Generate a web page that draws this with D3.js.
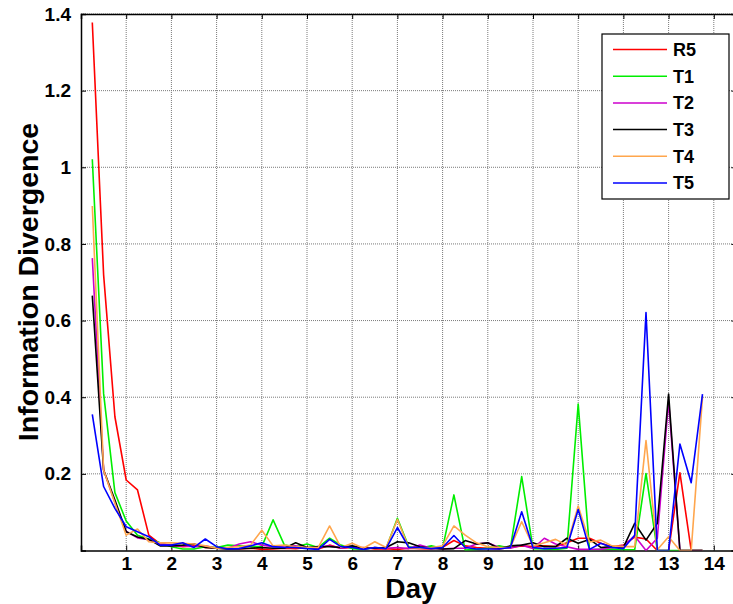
<!DOCTYPE html>
<html><head><meta charset="utf-8">
<script src="https://cdn.jsdelivr.net/npm/d3@7/dist/d3.min.js"></script>
<style>
body{margin:0;background:#fff;}
text{font-family:"Liberation Sans",Arial,Helvetica,sans-serif;font-weight:bold;}
</style></head>
<body><svg id="c" width="733" height="604"></svg>
<script>
const days = d3.range(1, 56).map(i => i * 0.25);
const xTicks = [1,2,3,4,5,6,7,8,9,10,11,12,13,14];
const yTicks = [0.2,0.4,0.6,0.8,1,1.2,1.4];
const seriesNames = ["R5","T1","T2","T3","T4","T5"];
const seriesColors = ["#ff0000","#00ee00","#cc00cc","#000000","#ffa64d","#0000ff"];

const R5 = [1.378,0.72,0.349,0.184,0.158,0.04,0.017,0.014,0.01,0.012,0.008,0.006,0.005,0.004,0.006,0.003,0.004,0.006,0.005,0.008,0.004,0.014,0.006,0.008,0.008,0.004,0.005,0.003,0.006,0.005,0.004,0.008,0.026,0.012,0.008,0.006,0.004,0.008,0.012,0.01,0.012,0.01,0.02,0.032,0.032,0.019,0.01,0.014,0.035,0.03,0.0,0.0,0.203,0.0,0.0];
const T1 = [1.021,0.41,0.151,0.077,0.04,0.03,0.02,0.01,0.004,0.004,0.01,0.008,0.014,0.012,0.01,0.01,0.08,0.014,0.01,0.017,0.008,0.032,0.014,0.005,0.003,0.008,0.006,0.084,0.01,0.006,0.012,0.006,0.145,0.001,0.003,0.006,0.012,0.006,0.193,0.005,0.004,0.003,0.006,0.382,0.002,0.003,0.004,0.002,0.002,0.201,0.0,0.0,0.0,0.0,0.0];
const T2 = [0.763,0.21,0.125,0.05,0.033,0.028,0.019,0.012,0.012,0.01,0.012,0.006,0.006,0.017,0.023,0.014,0.01,0.012,0.012,0.006,0.008,0.012,0.006,0.01,0.004,0.008,0.006,0.008,0.005,0.014,0.006,0.004,0.006,0.006,0.017,0.02,0.008,0.006,0.014,0.005,0.032,0.017,0.01,0.003,0.003,0.003,0.008,0.012,0.038,0.0,0.032,0.39,0.0,0.0,0.0];
const T3 = [0.665,0.21,0.132,0.049,0.035,0.029,0.012,0.012,0.014,0.017,0.008,0.006,0.004,0.005,0.006,0.008,0.006,0.006,0.02,0.008,0.01,0.01,0.008,0.012,0.006,0.006,0.008,0.023,0.02,0.01,0.006,0.004,0.005,0.026,0.017,0.02,0.005,0.012,0.014,0.02,0.01,0.01,0.032,0.019,0.029,0.008,0.01,0.008,0.071,0.027,0.071,0.408,0.0,0.0,0.0];
const T4 = [0.899,0.21,0.124,0.04,0.056,0.023,0.02,0.02,0.019,0.017,0.012,0.006,0.008,0.01,0.014,0.053,0.012,0.014,0.01,0.008,0.008,0.064,0.008,0.019,0.006,0.023,0.008,0.081,0.008,0.006,0.008,0.012,0.064,0.04,0.02,0.01,0.008,0.008,0.075,0.012,0.02,0.029,0.014,0.116,0.022,0.027,0.012,0.01,0.01,0.287,0.002,0.036,0.0,0.0,0.40];
const T5 = [0.355,0.167,0.110,0.062,0.049,0.036,0.014,0.014,0.02,0.008,0.03,0.01,0.004,0.005,0.012,0.02,0.01,0.008,0.008,0.005,0.003,0.029,0.01,0.008,0.003,0.008,0.005,0.06,0.008,0.008,0.005,0.008,0.039,0.008,0.004,0.004,0.004,0.008,0.101,0.008,0.005,0.006,0.008,0.107,0.003,0.019,0.008,0.005,0.04,0.621,0.0,0.0,0.278,0.177,0.408];
const seriesValues = [R5,T1,T2,T3,T4,T5];

const L = 81, R = 736.4, T = 14, B = 550.5;
const svg = d3.select("#c");
const x = d3.scaleLinear().domain([0, 14.5]).range([L, R]);
const y = d3.scaleLinear().domain([0, 1.4]).range([B, T]);

svg.append("defs").append("clipPath").attr("id","clip")
  .append("rect").attr("x",L).attr("y",T-2).attr("width",R-L).attr("height",B-T+2);

// grid
const g = svg.append("g");
g.selectAll(".vg").data(xTicks).join("line")
  .attr("x1",d=>x(d)).attr("x2",d=>x(d)).attr("y1",T).attr("y2",B)
  .attr("stroke","#7a7a7a").attr("stroke-width",1).attr("stroke-dasharray","1,1");
g.selectAll(".hg").data(yTicks).join("line")
  .attr("x1",L).attr("x2",R).attr("y1",d=>y(d)).attr("y2",d=>y(d))
  .attr("stroke","#7a7a7a").attr("stroke-width",1).attr("stroke-dasharray","1,1");

// axes
const xAxisB = d3.axisBottom(x).tickValues(xTicks).tickSize(-5).tickPadding(6).tickFormat(d3.format("d"));
const xAxisT = d3.axisTop(x).tickValues(xTicks).tickSize(-5).tickFormat("");
const yAxisL = d3.axisLeft(y).tickValues(yTicks).tickSize(-5).tickPadding(10).tickFormat(d=>d3.format("")(d));
const yAxisR = d3.axisRight(y).tickValues(yTicks).tickSize(-5).tickFormat("");

function style(sel){
  sel.select(".domain").attr("stroke","#000").attr("stroke-width",1.5);
  sel.selectAll(".tick line").attr("stroke","#000").attr("stroke-width",1);
  sel.selectAll(".tick text").attr("fill","#000").attr("font-size",19).attr("font-weight","bold")
    .attr("font-family","'Liberation Sans',Arial,sans-serif");
}
svg.append("g").attr("transform",`translate(0,${B})`).call(xAxisB).call(style);
svg.append("g").attr("transform",`translate(0,${T})`).call(xAxisT).call(style);
svg.append("g").attr("transform",`translate(${L},0)`).call(yAxisL).call(style);
svg.append("g").attr("transform",`translate(${R},0)`).call(yAxisR).call(style);

// lines
const line = d3.line().x((d,i)=>x(days[i])).y(d=>y(d));
const lg = svg.append("g").attr("clip-path","url(#clip)");
seriesValues.forEach((vals,k)=>{
  lg.append("path").datum(vals).attr("d",line)
    .attr("fill","none").attr("stroke",seriesColors[k]).attr("stroke-width",1.6)
    .attr("stroke-linejoin","round");
});

// legend
const leg = svg.append("g");
leg.append("rect").attr("x",602).attr("y",34).attr("width",127).attr("height",165)
  .attr("fill","#fff").attr("stroke","#000").attr("stroke-width",1.2);
seriesNames.forEach((n,k)=>{
  const yy = 49.5 + k*26.7;
  leg.append("line").attr("x1",613).attr("x2",667).attr("y1",yy).attr("y2",yy)
    .attr("stroke",seriesColors[k]).attr("stroke-width",1.5);
  leg.append("text").attr("x",673).attr("y",yy).attr("dy","0.36em")
    .attr("font-size",18).text(n);
});

// labels
svg.append("text").attr("x",411).attr("y",598).attr("text-anchor","middle")
  .attr("font-size",28).text("Day");
svg.append("text").attr("transform","translate(38,282) rotate(-90)").attr("text-anchor","middle")
  .attr("font-size",28.5).text("Information Divergence");
</script></body></html>
